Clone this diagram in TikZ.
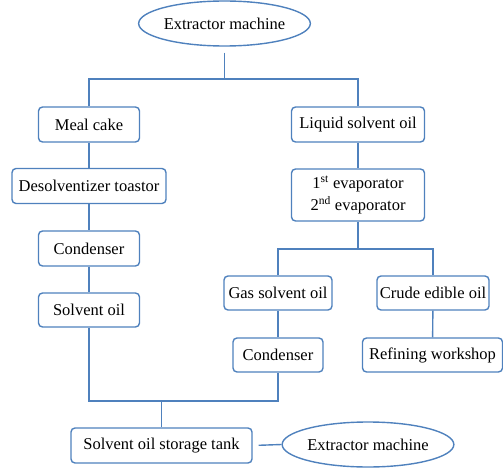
\documentclass[tikz,border=0pt]{standalone}
\usepackage{fontspec}
\setmainfont{Liberation Serif}
\usepackage{tikz}
\usetikzlibrary{shapes.geometric}
\definecolor{flowblue}{RGB}{79,129,189}

\begin{document}
\begin{tikzpicture}[x=1pt, y=-1pt,
  every node/.style={font=\rmfamily\fontsize{16.5}{21.5}\selectfont, text=black},
  stage/.style={draw=flowblue, line width=1.4pt, rounded corners=4pt, minimum height=35pt, inner sep=0pt},
  machine/.style={draw=flowblue, line width=1.4pt, ellipse, minimum width=149pt, minimum height=45pt, inner sep=0pt},
  link/.style={draw=flowblue, line width=1.4pt}]
\useasboundingbox (0,0) rectangle (503,468);
% top
\node[machine] (ext) at (224.5,23.5) {Extractor machine};
\coordinate (split1) at (224.5,79);
% meal cake branch
\node[stage, minimum width=101pt] (meal) at (89,124.5) {Meal cake};
\node[stage, minimum width=154pt] (desolv) at (89,186) {Desolventizer toastor};
\node[stage, minimum width=101pt] (cond1) at (89,248.5) {Condenser};
\node[stage, minimum width=101pt, minimum height=34pt] (solvent) at (89,310) {Solvent oil};
% liquid solvent oil branch
\node[stage, minimum width=133pt] (liquid) at (358,124.5) {Liquid solvent oil};
\node[stage, minimum width=133pt, minimum height=52pt, align=center] (evap) at (358,195)
  {1\textsuperscript{st} evaporator\\2\textsuperscript{nd} evaporator};
\coordinate (split2) at (358,249);
\node[stage, minimum width=108pt, minimum height=34pt] (gas) at (278,293) {Gas solvent oil};
\node[stage, minimum width=112pt, minimum height=34pt] (crude) at (433,293) {Crude edible oil};
\node[stage, minimum width=90pt, minimum height=34pt] (cond2) at (278,355) {Condenser};
\node[stage, minimum width=140pt, minimum height=34pt] (refine) at (432.5,355) {Refining workshop};
% bottom
\coordinate (merge) at (161.5,401);
\node[stage, minimum width=181pt] (tank) at (161.5,445.5) {Solvent oil storage tank};
\node[machine, minimum width=150pt] (ext2) at (368,444.5) {Extractor machine};
% connectors
\draw[link, shorten <=6pt] (ext.south) -- (split1);
\draw[link] (meal.north) |- (split1) -| (liquid.north);
\draw[link] (meal) -- (desolv);
\draw[link] (desolv) -- (cond1);
\draw[link] (cond1) -- (solvent);
\draw[link] (liquid) -- (evap);
\draw[link] (evap.south) -- (split2);
\draw[link] (gas.north) |- (split2) -| (crude.north);
\draw[link] (gas) -- (cond2);
\draw[link] (crude) -- (refine);
\draw[link] (solvent.south) |- (merge) -| (cond2.south);
\draw[link] (merge) -- (tank.north);
\draw[link, shorten <=6pt] (tank.east) -- (ext2.west);
\end{tikzpicture}
\end{document}
